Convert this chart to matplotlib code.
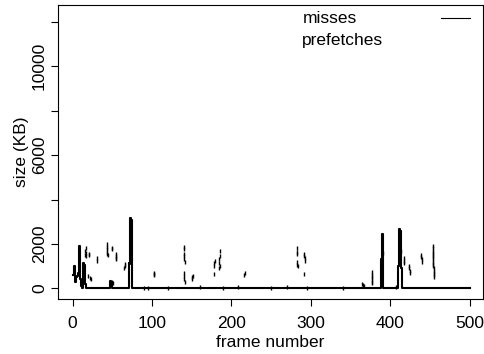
import numpy as np
import matplotlib
matplotlib.use("Agg")
import matplotlib.pyplot as plt

plt.rcParams['font.family'] = ['Liberation Sans', 'DejaVu Sans']

# misses: frames with a non-zero miss size (KB), all other frames are 0
miss_frames = [1, 2, 3, 4, 5, 6, 7, 8, 9, 10, 11, 13, 14, 15, 16,
               47, 48, 49, 71, 72, 73, 74,
               389, 390, 391, 411, 412, 413, 414]
miss_kb = [600, 1000, 700, 300, 520, 550, 700, 1850, 1920, 400, 100, 600, 1140, 1050, 200,
           250, 340, 300, 1140, 1100, 3150, 3100,
           1300, 2430, 1400, 1000, 2680, 2600, 900]
n_frames = 500

# prefetches (frame, size in KB)
pf_frames = [14, 15, 15, 17, 17, 17, 19, 20, 21, 22, 23,
             31, 31, 43, 43, 43, 43, 43, 44, 49, 50, 54, 54, 55, 55, 65, 66, 66, 50, 51,
             102, 102, 103,
             140, 140, 140, 140, 140, 141, 140, 140, 140, 141, 150, 150, 151,
             178, 178, 179, 178, 185, 185, 184, 184, 185, 184,
             216, 217,
             283, 283, 283, 283, 283, 284, 292, 292, 293, 293, 292,
             365, 366, 367, 377, 377, 377, 377, 377, 377, 391,
             414, 417, 417, 418, 424, 424, 425, 425, 439, 439, 440, 440,
             454, 454, 454, 454, 454, 454, 454, 454, 454, 454, 455, 455, 455, 455, 455,
             90, 95, 120, 160, 190, 208, 250, 270, 295, 340, 408]
pf_kb = [600, 1500, 1700, 1450, 1600, 1800, 550, 1550, 1500, 450, 400,
         1250, 1350, 1550, 1650, 1750, 1850, 2000, 1500, 1800, 1750, 1300, 1450, 1550, 1350, 900, 1000, 1100, 300, 250,
         600, 700, 650,
         1850, 1750, 1550, 1450, 1300, 1200, 700, 550, 400, 300, 500, 400, 550,
         1000, 1150, 1250, 650, 1700, 1450, 1300, 1150, 1000, 900,
         600, 700,
         1800, 1650, 1550, 1200, 1050, 1000, 1550, 1450, 1350, 1250, 650,
         200, 150, 100, 750, 600, 500, 400, 300, 250, 1600,
         1700, 1350, 1250, 1150, 1000, 900, 800, 700, 1500, 1400, 1300, 1200,
         1900, 1800, 1700, 1600, 1500, 1400, 1300, 1200, 1100, 1000, 900, 800, 700, 600, 500,
         30, 30, 20, 40, 30, 50, 30, 80, 30, 20, 60]

frames = np.arange(1, n_frames + 1)
misses = np.zeros(n_frames)
misses[np.array(miss_frames) - 1] = miss_kb

fig = plt.figure(figsize=(4.84, 3.54), dpi=100)
ax = fig.add_axes([58 / 484, 1 - 299 / 354, 425 / 484, 294 / 354])

ax.plot(frames, misses, color='black', lw=1.5, drawstyle='steps-mid')
ax.plot(pf_frames, pf_kb, ls='none', marker='|', ms=2.5, mew=1.0, color='black')

ax.set_xlim(-18.5, 517)
ax.set_ylim(-480, 12760)
ax.set_xticks([0, 100, 200, 300, 400, 500])
ax.set_yticks([0, 2000, 4000, 6000, 8000, 10000, 12000])
ax.set_yticklabels(['0', '2000', '', '6000', '', '10000', ''], rotation=90, va='center')
ax.tick_params(direction='out', length=5, width=0.8, labelsize=12.5)
ax.tick_params(axis='x', pad=7)
ax.tick_params(axis='y', pad=3)
for s in ax.spines.values():
    s.set_linewidth(0.8)

ax.set_xlabel('frame number', fontsize=12.5, labelpad=3)
ax.set_ylabel('size (KB)', fontsize=12.5, labelpad=2)

# legend (R style: text on the left, line sample on the right)
ax.text(0.575, 0.955, 'misses', transform=ax.transAxes, fontsize=12.5, va='center')
ax.text(0.575, 0.88, 'prefetches', transform=ax.transAxes, fontsize=12.5, va='center')
ax.plot([0.9, 0.97], [0.955, 0.955], transform=ax.transAxes, color='black', lw=0.8)

fig.savefig('out.png', dpi=100)
